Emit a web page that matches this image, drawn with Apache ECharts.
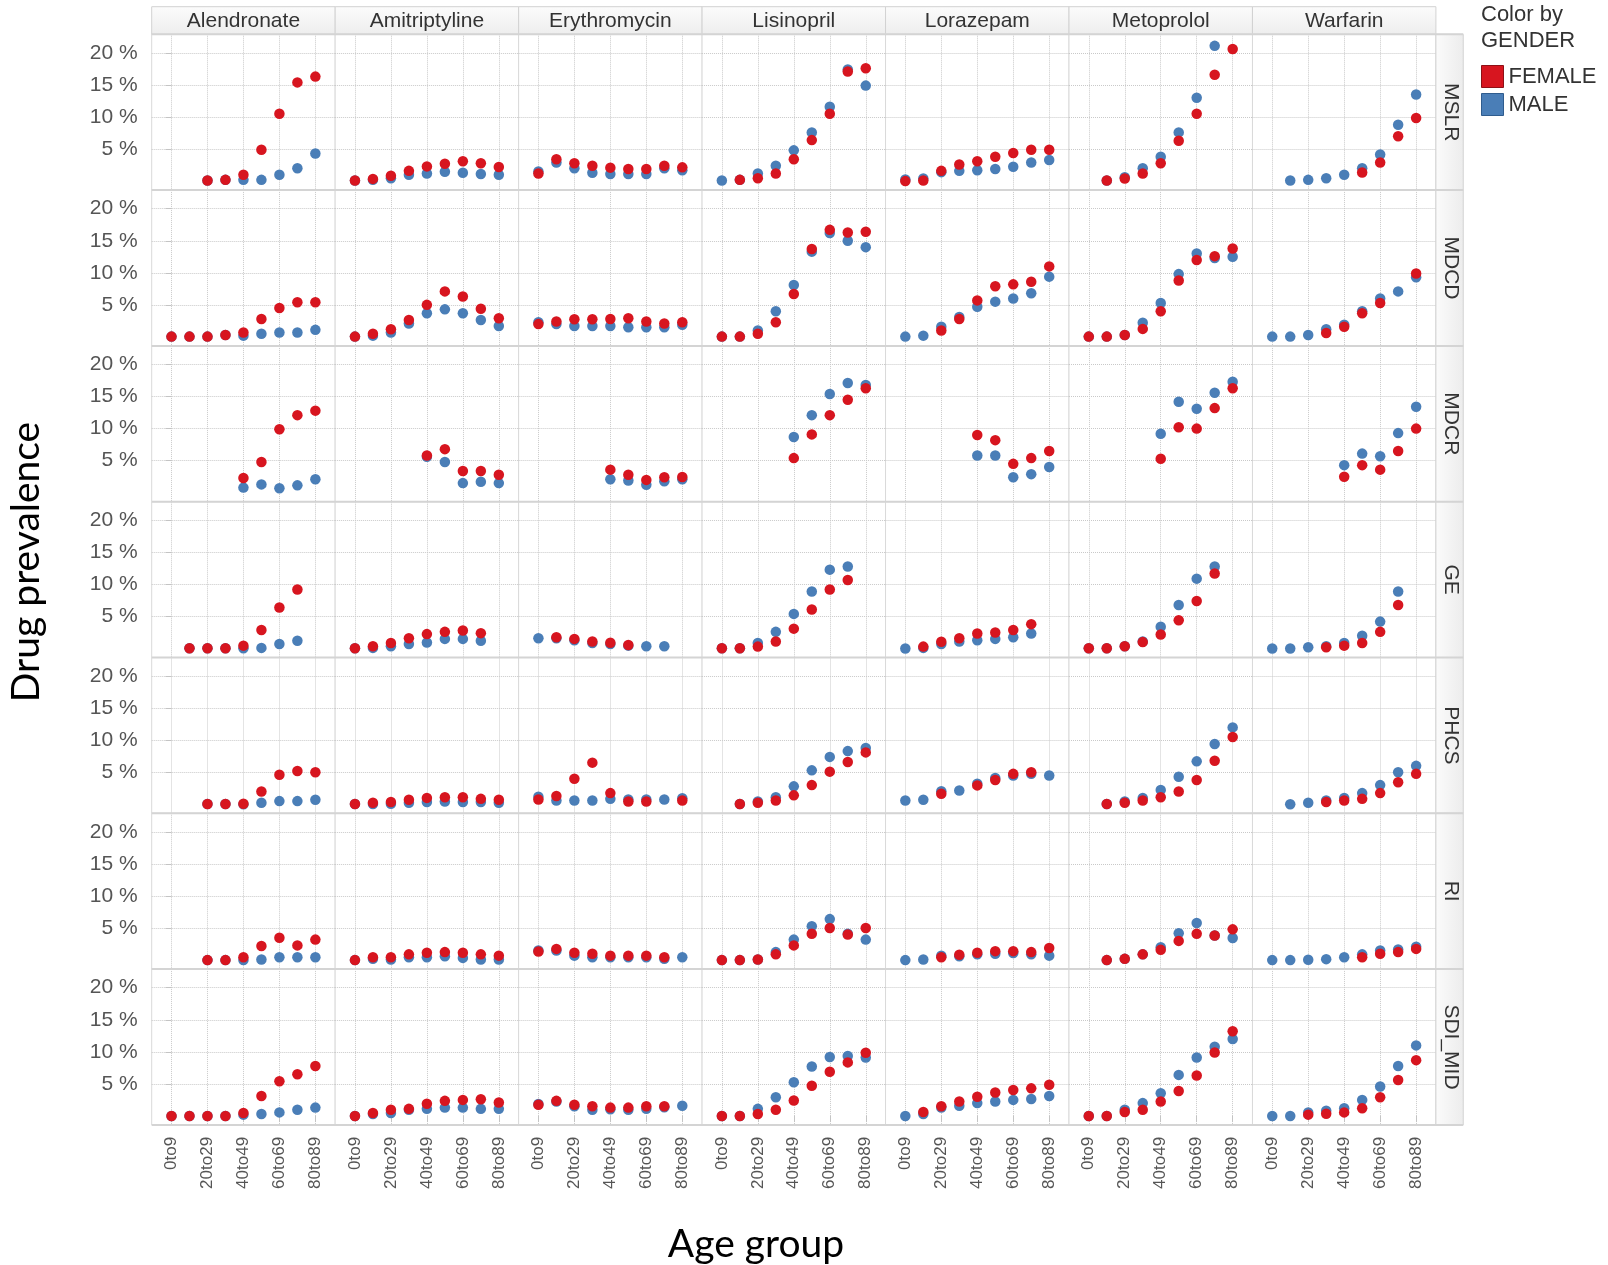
<!DOCTYPE html>
<html>
<head>
<meta charset="utf-8">
<script src="https://cdn.jsdelivr.net/npm/echarts@6/dist/echarts.min.js"></script>
<style>
html,body{margin:0;padding:0;background:#fff;}
#chart{width:1608px;height:1265px;}
</style>
</head>
<body>
<div id="chart"></div>
<script>
const AGE = ['0to9','10to19','20to29','30to39','40to49','50to59','60to69','70to79','80to89'];
const AGE_TICKS = [0, 2, 4, 6, 8];
const Y_TICKS = [5, 10, 15, 20];
const DRUGS = ['Alendronate','Amitriptyline','Erythromycin','Lisinopril','Lorazepam','Metoprolol','Warfarin'];
const DATABASES = ['MSLR','MDCD','MDCR','GE','PHCS','RI','SDI_MID'];
const N = null;

// Drug prevalence (%) per age group; rows in DRUGS order
const MSLR_FEMALE = [
  [N, N, 0.1, 0.2, 1.0, 4.9, 10.5, 15.4, 16.3],
  [0.1, 0.35, 0.85, 1.6, 2.3, 2.7, 3.1, 2.8, 2.2],
  [1.2, 3.4, 2.8, 2.4, 2.1, 1.9, 1.9, 2.4, 2.15],
  [N, 0.2, 0.45, 1.2, 3.4, 6.4, 10.5, 17.1, 17.6],
  [0.0, 0.1, 1.6, 2.6, 3.1, 3.8, 4.4, 4.9, 4.9],
  [N, 0.1, 0.4, 1.2, 2.8, 6.3, 10.5, 16.6, 20.6],
  [N, N, N, N, N, 1.35, 2.9, 7.0, 9.85]
];
const MSLR_MALE = [
  [N, N, 0.1, 0.2, 0.2, 0.2, 1.0, 2.0, 4.3],
  [0.1, 0.2, 0.45, 1.0, 1.2, 1.45, 1.3, 1.1, 1.0],
  [1.5, 2.9, 2.0, 1.3, 1.1, 1.1, 1.1, 2.0, 1.7],
  [0.1, 0.2, 1.2, 2.4, 4.8, 7.6, 11.6, 17.4, 14.9],
  [0.25, 0.4, 1.4, 1.6, 1.7, 1.9, 2.25, 2.9, 3.3],
  [N, 0.1, 0.6, 2.0, 3.8, 7.6, 13.0, 21.1, N],
  [N, 0.1, 0.2, 0.45, 1.0, 2.0, 4.15, 8.8, 13.5]
];
const MDCD_FEMALE = [
  [0.05, 0.05, 0.05, 0.3, 0.7, 2.8, 4.5, 5.4, 5.4],
  [0.05, 0.5, 1.2, 2.65, 5.0, 7.1, 6.3, 4.4, 2.9],
  [2.0, 2.4, 2.75, 2.75, 2.8, 2.9, 2.4, 2.1, 2.3],
  [0.05, 0.05, 0.5, 2.3, 6.7, 13.7, 16.7, 16.3, 16.4],
  [N, N, 1.0, 2.8, 5.7, 7.9, 8.2, 8.6, 11.0],
  [0.05, 0.05, 0.3, 1.25, 4.0, 8.8, 12.0, 12.6, 13.8],
  [N, N, N, 0.6, 1.6, 3.7, 5.3, N, 9.9]
];
const MDCD_MALE = [
  [0.05, 0.05, 0.05, 0.3, 0.2, 0.5, 0.7, 0.7, 1.1],
  [0.05, 0.2, 0.7, 2.1, 3.7, 4.3, 3.7, 2.65, 1.7],
  [2.3, 2.0, 1.7, 1.7, 1.7, 1.5, 1.5, 1.5, 1.9],
  [0.05, 0.05, 1.0, 4.0, 8.1, 13.3, 16.2, 15.0, 14.0],
  [0.05, 0.2, 1.6, 3.1, 4.7, 5.5, 6.0, 6.8, 9.4],
  [0.05, 0.05, 0.3, 2.2, 5.3, 9.8, 13.0, 12.3, 12.5],
  [0.05, 0.05, 0.3, 1.2, 1.9, 4.0, 6.0, 7.1, 9.3]
];
const MDCR_FEMALE = [
  [N, N, N, N, 2.3, 4.8, 9.9, 12.1, 12.8],
  [N, N, N, N, 5.8, 6.8, 3.4, 3.4, 2.8],
  [N, N, N, N, 3.6, 2.8, 2.0, 2.4, 2.45],
  [N, N, N, N, 5.4, 9.1, 12.1, 14.5, 16.3],
  [N, N, N, N, 9.0, 8.2, 4.5, 5.4, 6.5],
  [N, N, N, N, 5.3, 10.2, 10.0, 13.2, 16.3],
  [N, N, N, N, 2.5, 4.3, 3.6, 6.5, 10.0]
];
const MDCR_MALE = [
  [N, N, N, N, 0.8, 1.3, 0.7, 1.15, 2.1],
  [N, N, N, N, 5.6, 4.8, 1.5, 1.7, 1.5],
  [N, N, N, N, 2.1, 1.9, 1.25, 1.8, 2.1],
  [N, N, N, N, 8.7, 12.1, 15.4, 17.1, 16.8],
  [N, N, N, N, 5.8, 5.8, 2.4, 2.9, 4.0],
  [N, N, N, N, 9.2, 14.2, 13.1, 15.6, 17.3],
  [N, N, N, N, 4.3, 6.1, 5.7, 9.3, 13.4]
];
const GE_FEMALE = [
  [N, 0.05, 0.05, 0.05, 0.45, 2.9, 6.4, 9.2, N],
  [0.05, 0.35, 0.85, 1.6, 2.25, 2.6, 2.8, 2.4, N],
  [N, 1.75, 1.5, 1.1, 0.9, 0.55, N, N, N],
  [0.05, 0.05, 0.3, 1.1, 3.1, 6.1, 9.2, 10.7, N],
  [N, 0.3, 1.05, 1.6, 2.35, 2.5, 2.9, 3.8, N],
  [0.05, 0.05, 0.35, 1.0, 2.2, 4.4, 7.4, 11.7, N],
  [N, N, N, 0.2, 0.45, 0.85, 2.6, 6.8, N]
];
const GE_MALE = [
  [N, 0.05, 0.05, 0.05, 0.05, 0.1, 0.7, 1.2, N],
  [0.05, 0.1, 0.35, 0.7, 0.95, 1.5, 1.5, 1.2, N],
  [1.6, 1.6, 1.3, 0.85, 0.7, 0.45, 0.35, 0.35, N],
  [0.05, 0.05, 0.85, 2.6, 5.4, 8.9, 12.3, 12.8, N],
  [0.0, 0.1, 0.7, 1.1, 1.3, 1.5, 1.75, 2.35, N],
  [0.05, 0.05, 0.35, 1.1, 3.4, 6.8, 10.9, 12.8, N],
  [0.0, 0.0, 0.2, 0.35, 0.85, 2.0, 4.2, 8.9, N]
];
const PHCS_FEMALE = [
  [N, N, 0.05, 0.05, 0.1, 2.0, 4.6, 5.2, 5.0],
  [0.05, 0.25, 0.35, 0.7, 1.0, 1.1, 1.1, 0.85, 0.7],
  [0.75, 1.3, 4.0, 6.5, 1.75, 0.45, 0.45, N, 0.6],
  [N, 0.05, 0.25, 0.6, 1.4, 3.0, 5.1, 6.6, 8.1],
  [N, N, 1.65, N, 2.95, 3.8, 4.75, 5.0, N],
  [N, 0.05, 0.25, 0.6, 1.1, 2.0, 3.8, 6.8, 10.5],
  [N, N, N, 0.35, 0.6, 0.85, 1.75, 3.45, 4.75]
];
const PHCS_MALE = [
  [N, N, 0.05, 0.05, 0.0, 0.25, 0.5, 0.5, 0.7],
  [0.05, 0.05, 0.1, 0.25, 0.35, 0.45, 0.35, 0.35, 0.25],
  [1.2, 0.6, 0.6, 0.6, 0.85, 0.75, 0.75, 0.75, 0.95],
  [N, 0.05, 0.45, 1.1, 2.8, 5.3, 7.4, 8.3, 8.8],
  [0.6, 0.7, 2.05, 2.15, 3.2, 4.1, 4.5, 4.75, 4.5],
  [N, 0.05, 0.45, 1.0, 2.25, 4.3, 6.7, 9.4, 12.0],
  [N, 0.0, 0.25, 0.6, 1.0, 1.75, 3.0, 5.0, 6.0]
];
const RI_FEMALE = [
  [N, N, 0.0, 0.0, 0.45, 2.2, 3.5, 2.3, 3.2],
  [0.0, 0.45, 0.45, 0.9, 1.15, 1.25, 1.15, 0.9, 0.7],
  [1.35, 1.75, 1.15, 1.0, 0.7, 0.7, 0.7, 0.45, N],
  [0.0, 0.0, 0.1, 0.9, 2.3, 4.1, 5.0, 4.0, 5.0],
  [N, N, 0.45, 0.85, 1.15, 1.4, 1.4, 1.25, 1.9],
  [N, 0.0, 0.2, 0.9, 1.6, 3.0, 4.1, 3.85, 4.8],
  [N, N, N, N, N, 0.45, 1.0, 1.25, 1.75]
];
const RI_MALE = [
  [N, N, 0.0, 0.0, 0.0, 0.1, 0.45, 0.45, 0.45],
  [0.0, 0.2, 0.1, 0.45, 0.45, 0.6, 0.35, 0.1, 0.1],
  [1.5, 1.5, 0.7, 0.45, 0.45, 0.45, 0.45, 0.2, 0.45],
  [0.0, 0.0, 0.1, 1.25, 3.2, 5.3, 6.4, 4.1, 3.2],
  [0.0, 0.1, 0.7, 0.6, 0.9, 1.0, 1.1, 0.9, 0.7],
  [N, 0.0, 0.2, 0.9, 2.0, 4.2, 5.8, 3.85, 3.45],
  [0.0, 0.0, 0.05, 0.15, 0.45, 0.9, 1.5, 1.65, 2.1]
];
const SDI_MID_FEMALE = [
  [0.0, 0.0, 0.0, 0.0, 0.45, 3.1, 5.4, 6.5, 7.8],
  [0.0, 0.45, 0.95, 1.1, 1.9, 2.35, 2.5, 2.6, 2.1],
  [1.75, 2.35, 1.75, 1.5, 1.3, 1.3, 1.5, 1.5, N],
  [0.0, 0.0, 0.3, 0.95, 2.4, 4.7, 6.9, 8.35, 9.85],
  [N, 0.6, 1.5, 2.25, 3.0, 3.65, 4.05, 4.3, 4.85],
  [0.0, 0.0, 0.6, 0.95, 2.25, 3.9, 6.3, 9.9, 13.2],
  [N, N, 0.2, 0.35, 0.55, 1.2, 2.9, 5.6, 8.7]
];
const SDI_MID_MALE = [
  [0.0, 0.0, 0.0, 0.0, 0.2, 0.3, 0.55, 0.95, 1.3],
  [0.0, 0.3, 0.45, 0.95, 1.1, 1.3, 1.3, 1.1, 1.1],
  [1.85, 2.25, 1.5, 0.95, 1.05, 0.95, 1.1, 1.35, 1.6],
  [0.0, 0.0, 1.1, 2.9, 5.25, 7.7, 9.2, 9.35, 9.1],
  [0.0, 0.3, 1.3, 1.6, 2.0, 2.25, 2.5, 2.65, 3.1],
  [0.0, 0.0, 0.95, 2.0, 3.55, 6.4, 9.1, 10.8, 12.0],
  [0.0, 0.0, 0.55, 0.8, 1.2, 2.5, 4.6, 7.8, 11.0]
];

const FEMALE_BY_DB = [MSLR_FEMALE, MDCD_FEMALE, MDCR_FEMALE, GE_FEMALE, PHCS_FEMALE, RI_FEMALE, SDI_MID_FEMALE];
const MALE_BY_DB = [MSLR_MALE, MDCD_MALE, MDCR_MALE, GE_MALE, PHCS_MALE, RI_MALE, SDI_MID_MALE];

const RED = '#d7151f';
const BLUE = '#4a7eb7';
const FONT = '"Liberation Sans", Arial, sans-serif';

// layout
const L0 = 151.7, PW = 183.46, T0 = 34.3, PH = 155.8;
const HEAD_TOP = 6.7, STRIP_W = 27.3;

const chart = echarts.init(document.getElementById('chart'), null, {renderer: 'canvas'});

const grids = [], xAxes = [], yAxes = [], series = [];
function pts(arr) {
  const out = [];
  arr.forEach((v, i) => { if (v !== null) out.push([i, v]); });
  return out;
}
for (let r = 0; r < DATABASES.length; r++) {
  for (let c = 0; c < DRUGS.length; c++) {
    const idx = r * DRUGS.length + c;
    grids.push({
      left: L0 + c * PW, top: T0 + r * PH, width: PW, height: PH,
      show: true, borderColor: '#d9d9d9', borderWidth: 1, backgroundColor: '#fff'
    });
    xAxes.push({
      gridIndex: idx, type: 'value', min: -1.1, max: 9.1,
      axisLine: {show: false},
      axisTick: {show: r === DATABASES.length - 1, customValues: AGE_TICKS, length: 6, lineStyle: {color: '#c4c4c4'}},
      axisLabel: {show: r === DATABASES.length - 1, customValues: AGE_TICKS, rotate: 90, fontSize: 17,
                  color: '#555', fontFamily: FONT, margin: 12, formatter: v => AGE[Math.round(v)]},
      splitLine: {show: true, lineStyle: {type: 'dotted', color: '#c9c9c9', width: 1}}
    });
    yAxes.push({
      gridIndex: idx, type: 'value', min: -1.4, max: 22.9,
      axisLine: {show: false},
      axisTick: {show: c === 0, customValues: Y_TICKS, length: 6, lineStyle: {color: '#c4c4c4'}},
      axisLabel: {show: c === 0, customValues: Y_TICKS, fontSize: 21, color: '#555',
                  fontFamily: FONT, margin: 14, formatter: v => v + ' %'},
      splitLine: {show: true, lineStyle: {type: 'dotted', color: '#c9c9c9', width: 1}}
    });
    series.push({
      type: 'scatter', name: 'MALE', xAxisIndex: idx, yAxisIndex: idx,
      data: pts(MALE_BY_DB[r][c]), symbolSize: 10.5, z: 2,
      itemStyle: {color: BLUE, opacity: 1}, emphasis: {disabled: true}, silent: true
    });
    series.push({
      type: 'scatter', name: 'FEMALE', xAxisIndex: idx, yAxisIndex: idx,
      data: pts(FEMALE_BY_DB[r][c]), symbolSize: 10.5, z: 3,
      itemStyle: {color: RED, opacity: 1}, emphasis: {disabled: true}, silent: true
    });
  }
}

const graphics = [];
const headGrad = () => new echarts.graphic.LinearGradient(0, 0, 0, 1, [{offset: 0, color: '#fcfcfc'}, {offset: 1, color: '#ededed'}]);
const stripGrad = () => new echarts.graphic.LinearGradient(0, 0, 1, 0, [{offset: 0, color: '#fbfbfb'}, {offset: 1, color: '#ececec'}]);
DRUGS.forEach((d, c) => {
  graphics.push({type: 'rect', z: 10, shape: {x: L0 + c * PW, y: HEAD_TOP, width: PW, height: T0 - HEAD_TOP},
    style: {fill: headGrad(), stroke: '#d2d2d2', lineWidth: 1}});
  graphics.push({type: 'text', z: 11, x: L0 + c * PW + PW / 2, y: (HEAD_TOP + T0) / 2 + 0.5,
    style: {text: d, fontSize: 21, fontFamily: FONT, fill: '#333', align: 'center', verticalAlign: 'middle'}});
});
DATABASES.forEach((db, r) => {
  const x0 = L0 + 7 * PW;
  graphics.push({type: 'rect', z: 10, shape: {x: x0, y: T0 + r * PH, width: STRIP_W, height: PH},
    style: {fill: stripGrad(), stroke: '#d2d2d2', lineWidth: 1}});
  graphics.push({type: 'text', z: 11, x: x0 + STRIP_W / 2 + 1, y: T0 + r * PH + PH / 2, rotation: -Math.PI / 2,
    style: {text: db, fontSize: 21, fontFamily: FONT, fill: '#333', align: 'center', verticalAlign: 'middle'}});
});
for (let r = 0; r <= DATABASES.length; r++) {
  graphics.push({type: 'line', z: 12, shape: {x1: L0, y1: T0 + r * PH, x2: L0 + 7 * PW + STRIP_W, y2: T0 + r * PH},
    style: {stroke: '#d4d4d4', lineWidth: 2}});
}
graphics.push({type: 'text', z: 11, x: 1481, y: 15,
  style: {text: 'Color by', fontSize: 22, fontFamily: FONT, fill: '#333', align: 'left', verticalAlign: 'middle'}});
graphics.push({type: 'text', z: 11, x: 1481, y: 41,
  style: {text: 'GENDER', fontSize: 22, fontFamily: FONT, fill: '#333', align: 'left', verticalAlign: 'middle'}});
graphics.push({type: 'text', z: 11, x: 26, y: 562, rotation: Math.PI / 2,
  style: {text: 'Drug prevalence', fontSize: 39, fontFamily: 'Lato, "Open Sans", sans-serif', fill: '#000', align: 'center', verticalAlign: 'middle'}});
graphics.push({type: 'text', z: 11, x: 756, y: 1244,
  style: {text: 'Age group', fontSize: 39, fontFamily: 'Lato, "Open Sans", sans-serif', fill: '#000', align: 'center', verticalAlign: 'middle'}});

const option = {
  animation: false,
  backgroundColor: '#fff',
  textStyle: {fontFamily: FONT},
  grid: grids, xAxis: xAxes, yAxis: yAxes, series: series,
  legend: {
    data: [
      {name: 'FEMALE', itemStyle: {color: RED, opacity: 1, borderColor: '#8e1016', borderWidth: 1}},
      {name: 'MALE', itemStyle: {color: BLUE, opacity: 1, borderColor: '#2f5c8e', borderWidth: 1}}
    ],
    orient: 'vertical', left: 1481, top: 65, padding: 0,
    itemWidth: 22, itemHeight: 22, itemGap: 5, icon: 'rect', selectedMode: false,
    textStyle: {fontSize: 22, color: '#333', fontFamily: FONT}
  },
  graphic: graphics
};
chart.setOption(option);
</script>
</body>
</html>
